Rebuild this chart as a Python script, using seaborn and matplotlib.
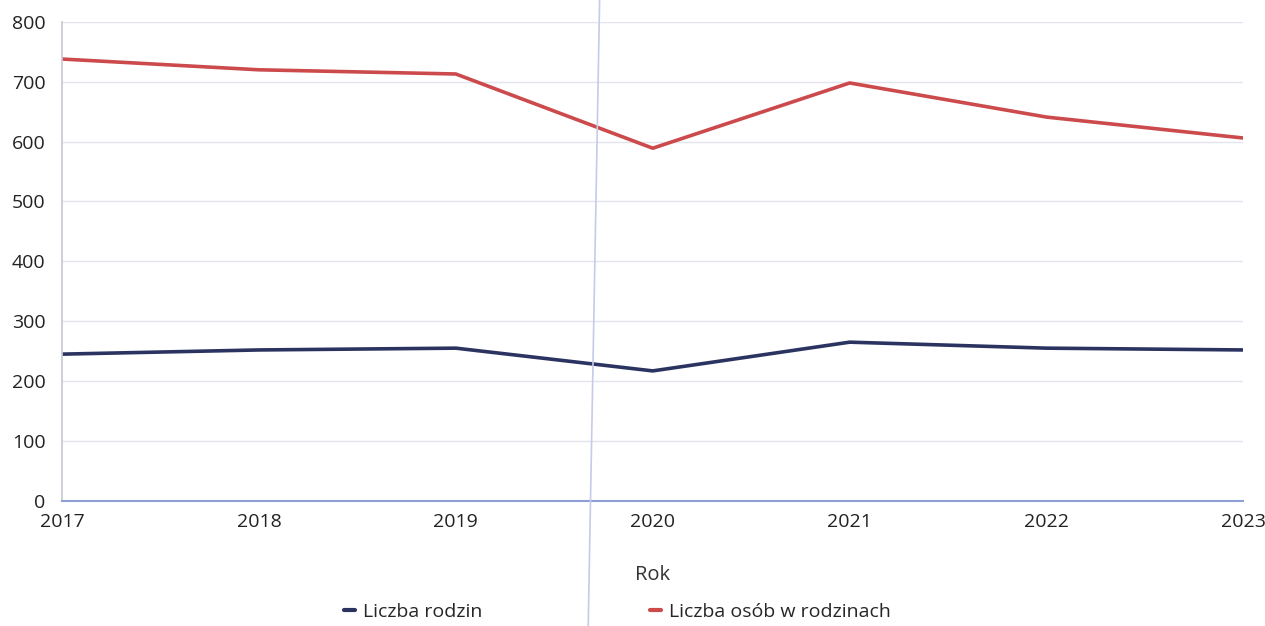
import pandas as pd
import matplotlib.pyplot as plt
import seaborn as sns
from matplotlib.lines import Line2D

# Data
years = [2017, 2018, 2019, 2020, 2021, 2022, 2023]
liczba_rodzin = [245, 252, 255, 217, 265, 255, 252]
liczba_osob = [738, 720, 713, 589, 698, 641, 606]

df = pd.DataFrame({
    'Rok': years * 2,
    'Wartość': liczba_rodzin + liczba_osob,
    'Seria': ['Liczba rodzin'] * len(years) + ['Liczba osób w rodzinach'] * len(years),
})

sns.set_theme(style='white')
plt.rcParams['font.family'] = ['Open Sans', 'DejaVu Sans']

palette = {'Liczba rodzin': '#2b3461', 'Liczba osób w rodzinach': '#cc4a4c'}

fig, ax = plt.subplots(figsize=(12.65, 6.26), dpi=100)
fig.subplots_adjust(left=0.049, right=0.983, top=0.965, bottom=0.2)

sns.lineplot(data=df, x='Rok', y='Wartość', hue='Seria', palette=palette,
             linewidth=2.6, ax=ax, legend=False)

ax.set_xlim(years[0], years[-1])
ax.set_ylim(0, 800)
ax.set_xticks(years)
ax.set_yticks(range(0, 801, 100))
ax.grid(axis='y', color='#e3e5ee', linewidth=1)
ax.set_axisbelow(True)

for s in ['top', 'right']:
    ax.spines[s].set_visible(False)
ax.spines['left'].set_color('#c8cad4')
ax.spines['bottom'].set_color('#8e9fd6')
ax.spines['bottom'].set_linewidth(1.5)

ax.tick_params(axis='both', length=0, labelsize=14, colors='#222222')
ax.tick_params(axis='x', pad=9)
ax.tick_params(axis='y', pad=12)
ax.set_xlabel('Rok', fontsize=14.5, color='#333333', labelpad=24)
ax.set_ylabel('')

handles = [Line2D([0], [0], color=palette[k], linewidth=3) for k in palette]
fig.legend(handles, list(palette.keys()), loc='lower center',
           bbox_to_anchor=(0.488, -0.02), ncol=2, frameon=False,
           fontsize=14, handlelength=0.6, handletextpad=0.4, columnspacing=8.6)

# faint vertical fold line visible in the scan
fig.add_artist(Line2D([0.474, 0.465], [1, 0], transform=fig.transFigure,
                      color='#c5cbe8', linewidth=1.2))

fig.savefig('out.png', dpi=100)
